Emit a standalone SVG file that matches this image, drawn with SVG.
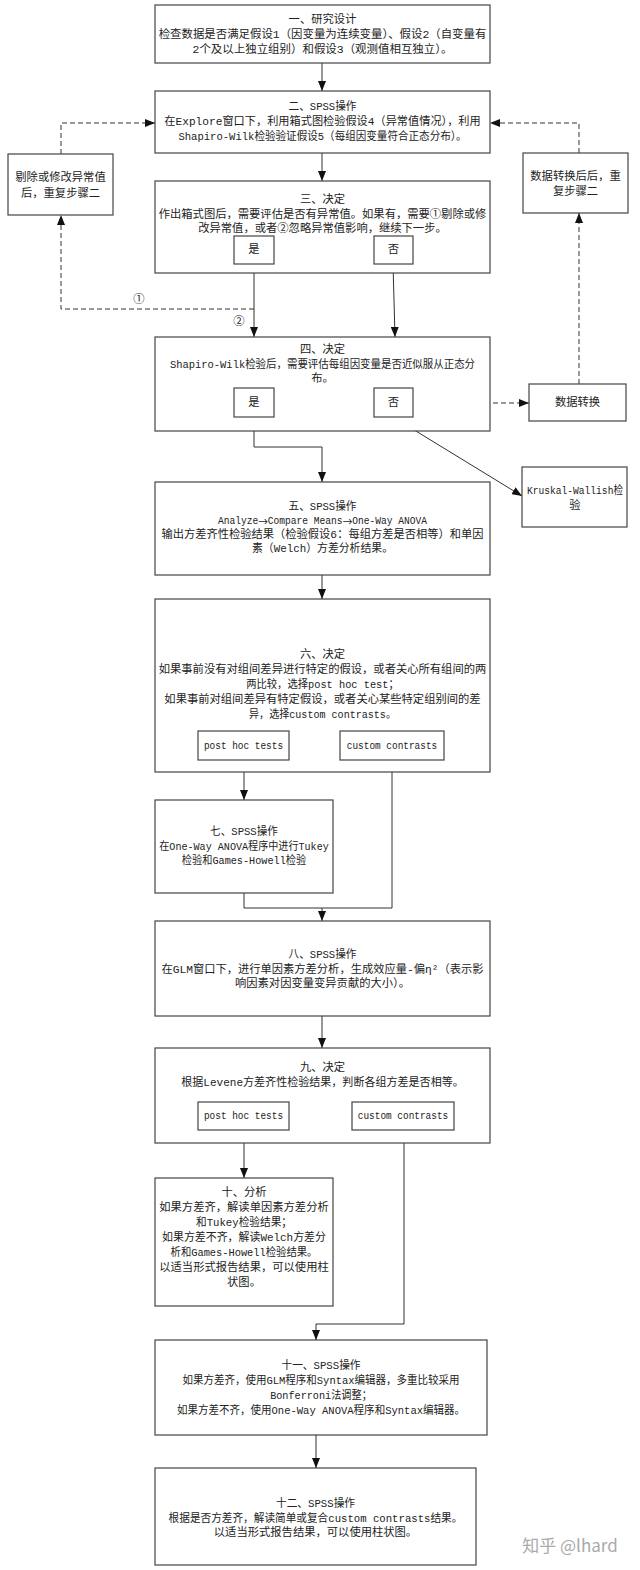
<svg xmlns="http://www.w3.org/2000/svg" width="640" height="1570" viewBox="0 0 640 1570">
<style>
.b{fill:#fff;stroke:#444;stroke-width:1.2}
.t{font-family:"Liberation Mono","Noto Sans CJK SC",monospace;font-size:11.3px;fill:#222;text-anchor:middle;dominant-baseline:central}
.k{font-family:"Noto Sans CJK SC","DejaVu Sans",sans-serif}
.c{fill:none;stroke:#333;stroke-width:1}
.d{fill:none;stroke:#333;stroke-width:1;stroke-dasharray:5,3}
.w{font-family:"Noto Sans CJK SC","Noto Sans",sans-serif;font-size:17px;fill:#aaa;text-anchor:middle;dominant-baseline:central}
</style>
<defs>
<marker id="ah" markerUnits="userSpaceOnUse" markerWidth="10" markerHeight="8" refX="10" refY="4" orient="auto">
<path d="M0,0 L10,4 L0,8 z" fill="#111"/>
</marker>
</defs>
<rect width="640" height="1570" fill="#fff"/>
<g id="connectors">
<path class="c" d="M322,63 L322,91" marker-end="url(#ah)"/>
<path class="d" d="M61,154 L61,123 L155,123" marker-end="url(#ah)"/>
<path class="d" d="M579,153 L579,123 L490,123" marker-end="url(#ah)"/>
<path class="c" d="M322,153 L322,181" marker-end="url(#ah)"/>
<path class="c" d="M254,264 L254,337" marker-end="url(#ah)"/>
<path class="d" d="M254,309 L61,309 L61,215" marker-end="url(#ah)"/>
<path class="c" d="M393,264 L395,337" marker-end="url(#ah)"/>
<path class="d" d="M413,403 L529,403" marker-end="url(#ah)"/>
<path class="d" d="M579,384 L579,213" marker-end="url(#ah)"/>
<path class="c" d="M254,417 L254,447 L322,447 L322,482" marker-end="url(#ah)"/>
<path class="c" d="M393,417 L522,496" marker-end="url(#ah)"/>
<path class="c" d="M322,575 L322,599" marker-end="url(#ah)"/>
<path class="c" d="M244,760 L244,800" marker-end="url(#ah)"/>
<path class="c" d="M392,760 L392,908 L322,908"/>
<path class="c" d="M244,893 L244,908 L322,908 L322,921" marker-end="url(#ah)"/>
<path class="c" d="M322,1016 L322,1048" marker-end="url(#ah)"/>
<path class="c" d="M244,1130 L244,1178" marker-end="url(#ah)"/>
<path class="c" d="M404,1130 L404,1324 L316,1324 L316,1340" marker-end="url(#ah)"/>
<path class="c" d="M316,1435 L316,1468" marker-end="url(#ah)"/>
<text class="t" x="139" y="300">①</text>
<text class="t" x="239" y="322">②</text>
</g>
<g id="n1">
<rect class="b" x="155" y="5" width="335" height="58"/>
<text class="t" x="322.5" y="20">一、研究设计</text>
<text class="t" x="322.5" y="35" textLength="327.7" lengthAdjust="spacingAndGlyphs">检查数据是否满足假设1（因变量为连续变量）、假设2（自变量有</text>
<text class="t" x="322.5" y="50" textLength="259.9" lengthAdjust="spacingAndGlyphs">2个及以上独立组别）和假设3（观测值相互独立）。</text>
</g>
<g id="n2">
<rect class="b" x="155" y="91" width="335" height="62"/>
<text class="t" x="322.5" y="107" textLength="67.8" lengthAdjust="spacingAndGlyphs">二、SPSS操作</text>
<text class="t" x="322.5" y="122" textLength="316.4" lengthAdjust="spacingAndGlyphs">在Explore窗口下，利用箱式图检验假设4（异常值情况），利用</text>
<text class="t" x="322.5" y="137" textLength="288.2" lengthAdjust="spacingAndGlyphs">Shapiro-Wilk检验验证假设5（每组因变量符合正态分布）。</text>
</g>
<g id="nLeft">
<rect class="b" x="8" y="154" width="105" height="61"/>
<text class="t" x="60.5" y="178">剔除或修改异常值</text>
<text class="t" x="60.5" y="194">后，重复步骤二</text>
</g>
<g id="nRight">
<rect class="b" x="523" y="153" width="105" height="60"/>
<text class="t" x="575.5" y="177">数据转换后后，重</text>
<text class="t" x="575.5" y="192">复步骤二</text>
</g>
<g id="n3">
<rect class="b" x="155" y="181" width="335" height="92"/>
<text class="t" x="322.5" y="200">三、决定</text>
<text class="t" x="322.5" y="214.5">作出箱式图后，需要评估是否有异常值。如果有，需要①剔除或修</text>
<text class="t" x="322.5" y="229">改异常值，或者②忽略异常值影响，继续下一步。</text>
<rect class="b" x="234" y="236" width="40" height="28"/>
<text class="t" x="254" y="250">是</text>
<rect class="b" x="374" y="236" width="39" height="28"/>
<text class="t" x="393.5" y="250">否</text>
</g>
<g id="n4">
<rect class="b" x="155" y="337" width="335" height="94"/>
<text class="t" x="322.5" y="350">四、决定</text>
<text class="t" x="322.5" y="364.5" textLength="305.1" lengthAdjust="spacingAndGlyphs">Shapiro-Wilk检验后，需要评估每组因变量是否近似服从正态分</text>
<text class="t" x="322.5" y="379">布。</text>
<rect class="b" x="234" y="388" width="40" height="29"/>
<text class="t" x="254" y="402.5">是</text>
<rect class="b" x="374" y="388" width="39" height="29"/>
<text class="t" x="393.5" y="402.5">否</text>
</g>
<g id="nTransform">
<rect class="b" x="529" y="384" width="97" height="37"/>
<text class="t" x="577.5" y="402.5">数据转换</text>
</g>
<g id="nKruskal">
<rect class="b" x="522" y="467" width="105" height="60"/>
<text class="t" x="575" y="491" textLength="96" lengthAdjust="spacingAndGlyphs">Kruskal-Wallish检</text>
<text class="t" x="575" y="506">验</text>
</g>
<g id="n5">
<rect class="b" x="155" y="482" width="335" height="93"/>
<text class="t" x="322.5" y="507" textLength="67.8" lengthAdjust="spacingAndGlyphs">五、SPSS操作</text>
<text class="t" x="322.5" y="521" textLength="209" lengthAdjust="spacingAndGlyphs">Analyze<tspan class="k">→</tspan>Compare Means<tspan class="k">→</tspan>One-Way ANOVA</text>
<text class="t" x="322.5" y="535" textLength="322" lengthAdjust="spacingAndGlyphs">输出方差齐性检验结果（检验假设6：每组方差是否相等）和单因</text>
<text class="t" x="322.5" y="549" textLength="141" lengthAdjust="spacingAndGlyphs">素（Welch）方差分析结果。</text>
</g>
<g id="n6">
<rect class="b" x="155" y="599" width="335" height="173"/>
<text class="t" x="322.5" y="655">六、决定</text>
<text class="t" x="322.5" y="670">如果事前没有对组间差异进行特定的假设，或者关心所有组间的两</text>
<text class="t" x="322.5" y="685" textLength="152.6" lengthAdjust="spacingAndGlyphs">两比较，选择post hoc test；</text>
<text class="t" x="322.5" y="700">如果事前对组间差异有特定假设，或者关心某些特定组别间的差</text>
<text class="t" x="322.5" y="715" textLength="146.9" lengthAdjust="spacingAndGlyphs">异，选择custom contrasts。</text>
<rect class="b" x="198" y="731" width="91" height="29"/>
<text class="t" x="243.5" y="745.5" textLength="79.1" lengthAdjust="spacingAndGlyphs">post hoc tests</text>
<rect class="b" x="340" y="731" width="104" height="29"/>
<text class="t" x="392" y="745.5" textLength="90.4" lengthAdjust="spacingAndGlyphs">custom contrasts</text>
</g>
<g id="n7">
<rect class="b" x="155" y="800" width="178" height="93"/>
<text class="t" x="244" y="832" textLength="67.8" lengthAdjust="spacingAndGlyphs">七、SPSS操作</text>
<text class="t" x="244" y="846.5" textLength="169.5" lengthAdjust="spacingAndGlyphs">在One-Way ANOVA程序中进行Tukey</text>
<text class="t" x="244" y="861" textLength="124.3" lengthAdjust="spacingAndGlyphs">检验和Games-Howell检验</text>
</g>
<g id="n8">
<rect class="b" x="155" y="921" width="335" height="95"/>
<text class="t" x="322.5" y="955" textLength="67.8" lengthAdjust="spacingAndGlyphs">八、SPSS操作</text>
<text class="t" x="322.5" y="969.5" textLength="322" lengthAdjust="spacingAndGlyphs">在GLM窗口下，进行单因素方差分析，生成效应量-偏η²（表示影</text>
<text class="t" x="322.5" y="984">响因素对因变量变异贡献的大小）。</text>
</g>
<g id="n9">
<rect class="b" x="155" y="1048" width="335" height="95"/>
<text class="t" x="322.5" y="1068">九、决定</text>
<text class="t" x="322.5" y="1083" textLength="282.5" lengthAdjust="spacingAndGlyphs">根据Levene方差齐性检验结果，判断各组方差是否相等。</text>
<rect class="b" x="198" y="1102" width="91" height="28"/>
<text class="t" x="243.5" y="1116" textLength="79.1" lengthAdjust="spacingAndGlyphs">post hoc tests</text>
<rect class="b" x="352" y="1102" width="102" height="28"/>
<text class="t" x="403" y="1116" textLength="90.4" lengthAdjust="spacingAndGlyphs">custom contrasts</text>
</g>
<g id="n10">
<rect class="b" x="155" y="1178" width="178" height="128"/>
<text class="t" x="244" y="1193">十、分析</text>
<text class="t" x="244" y="1208">如果方差齐，解读单因素方差分析</text>
<text class="t" x="244" y="1223" textLength="96" lengthAdjust="spacingAndGlyphs">和Tukey检验结果；</text>
<text class="t" x="244" y="1238" textLength="163.9" lengthAdjust="spacingAndGlyphs">如果方差不齐，解读Welch方差分</text>
<text class="t" x="244" y="1253" textLength="146.9" lengthAdjust="spacingAndGlyphs">析和Games-Howell检验结果。</text>
<text class="t" x="244" y="1268">以适当形式报告结果，可以使用柱</text>
<text class="t" x="244" y="1283">状图。</text>
</g>
<g id="n11">
<rect class="b" x="155" y="1340" width="332" height="95"/>
<text class="t" x="321" y="1366" textLength="79.1" lengthAdjust="spacingAndGlyphs">十一、SPSS操作</text>
<text class="t" x="321" y="1381" textLength="276.9" lengthAdjust="spacingAndGlyphs">如果方差齐，使用GLM程序和Syntax编辑器，多重比较采用</text>
<text class="t" x="321" y="1396" textLength="101.7" lengthAdjust="spacingAndGlyphs">Bonferroni法调整；</text>
<text class="t" x="321" y="1410.5" textLength="288.2" lengthAdjust="spacingAndGlyphs">如果方差不齐，使用One-Way ANOVA程序和Syntax编辑器。</text>
</g>
<g id="n12">
<rect class="b" x="155" y="1468" width="321" height="97"/>
<text class="t" x="315.5" y="1504" textLength="79.1" lengthAdjust="spacingAndGlyphs">十二、SPSS操作</text>
<text class="t" x="315.5" y="1518.5" textLength="293.8" lengthAdjust="spacingAndGlyphs">根据是否方差齐，解读简单或复合custom contrasts结果。</text>
<text class="t" x="315.5" y="1533">以适当形式报告结果，可以使用柱状图。</text>
</g>
<text class="w" x="570" y="1544">知乎 @lhard</text>
</svg>
